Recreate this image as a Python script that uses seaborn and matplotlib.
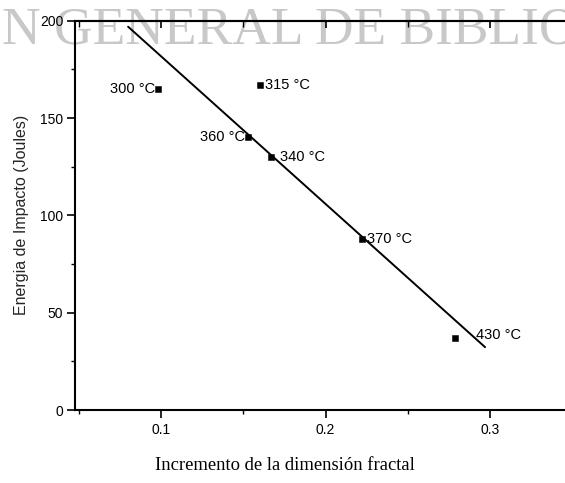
import numpy as np
import pandas as pd
import matplotlib
matplotlib.use("Agg")
import matplotlib.pyplot as plt
import seaborn as sns
from matplotlib.ticker import MultipleLocator

# ---- data ----
labels = ["300 °C", "315 °C", "360 °C", "340 °C", "370 °C", "430 °C"]
fractal_increment = [0.098, 0.160, 0.153, 0.167, 0.222, 0.279]
impact_energy = [165, 167, 140, 130, 88, 37]
fit_x_range = [0.080, 0.297]
x_ticks = [0.1, 0.2, 0.3]
y_ticks = [0, 50, 100, 150, 200]

# label offsets in points (style only)
label_offsets = [(-2, 0), (4, 0), (-2, 0), (6, 0), (4, 0), (15, 2)]
label_ha = ["right", "left", "right", "left", "left", "left"]

df = pd.DataFrame({"x": fractal_increment, "y": impact_energy, "label": labels})

sns.set_theme(style="ticks")
plt.rcParams["font.family"] = ["Liberation Sans", "DejaVu Sans"]

fig = plt.figure(figsize=(5.65, 4.83), dpi=100)
fig.patch.set_facecolor("white")

# watermark (behind everything)
fig.text(2 / 565, 1 - 44 / 483, "N GENERAL DE BIBLIO", fontsize=38.5,
         family=["Liberation Serif", "DejaVu Serif"], color="#c8c8c8",
         ha="left", va="baseline", zorder=-5)

ax = fig.add_axes([75 / 565, 1 - 410 / 483, 525 / 565, 389.3 / 483])
ax.patch.set_alpha(0)

# regression line
slope, intercept = np.polyfit(df["x"], df["y"], 1)
fx = np.linspace(fit_x_range[0], fit_x_range[1], 50)
fit_df = pd.DataFrame({"x": fx, "y": slope * fx + intercept})
sns.lineplot(data=fit_df, x="x", y="y", ax=ax, color="black", lw=1.4, zorder=2)

# points
sns.scatterplot(data=df, x="x", y="y", ax=ax, marker="s", s=22,
                color="black", edgecolor="black", zorder=3)

for (xv, yv, lab), off, ha in zip(zip(df["x"], df["y"], df["label"]),
                                  label_offsets, label_ha):
    ax.annotate(lab, (xv, yv), xytext=off, textcoords="offset points",
                ha=ha, va="center", fontsize=10.5, color="black")

ax.set_xlim(0.0477, 0.0477 + 525 / 1645)
ax.set_ylim(0, 200)
ax.set_xticks(x_ticks)
ax.set_xticklabels([str(t) for t in x_ticks])
ax.set_yticks(y_ticks)
ax.xaxis.set_minor_locator(MultipleLocator(0.05))
ax.yaxis.set_minor_locator(MultipleLocator(25))

ax.tick_params(which="major", direction="out", length=5.5, width=1.2,
               labelsize=10, color="black", labelcolor="black", pad=3)
ax.tick_params(which="minor", direction="out", length=3, width=1.0,
               color="black")
ax.tick_params(axis="x", which="major", pad=4)

for side in ["left", "bottom", "top"]:
    ax.spines[side].set_visible(True)
    ax.spines[side].set_linewidth(1.5)
    ax.spines[side].set_color("black")
ax.spines["right"].set_visible(False)

# top ticks pointing inward
sec = ax.secondary_xaxis("top")
sec.set_xticks(x_ticks)
sec.xaxis.set_minor_locator(MultipleLocator(0.05))
sec.tick_params(which="major", direction="in", length=5, width=1.2,
                labeltop=False, color="black")
sec.tick_params(which="minor", direction="in", length=4, width=1.0,
                color="black")
sec.spines["top"].set_linewidth(1.5)

ax.set_xlabel("")
ax.set_ylabel("Energia de Impacto (Joules)", fontsize=11.5, labelpad=8)

fig.text(285 / 565, 1 - 466 / 483, "Incremento de la dimensión fractal",
         fontsize=13.4, family=["Liberation Serif", "DejaVu Serif"],
         ha="center", va="center", color="black")

fig.savefig("out.png", dpi=100, facecolor="white")
